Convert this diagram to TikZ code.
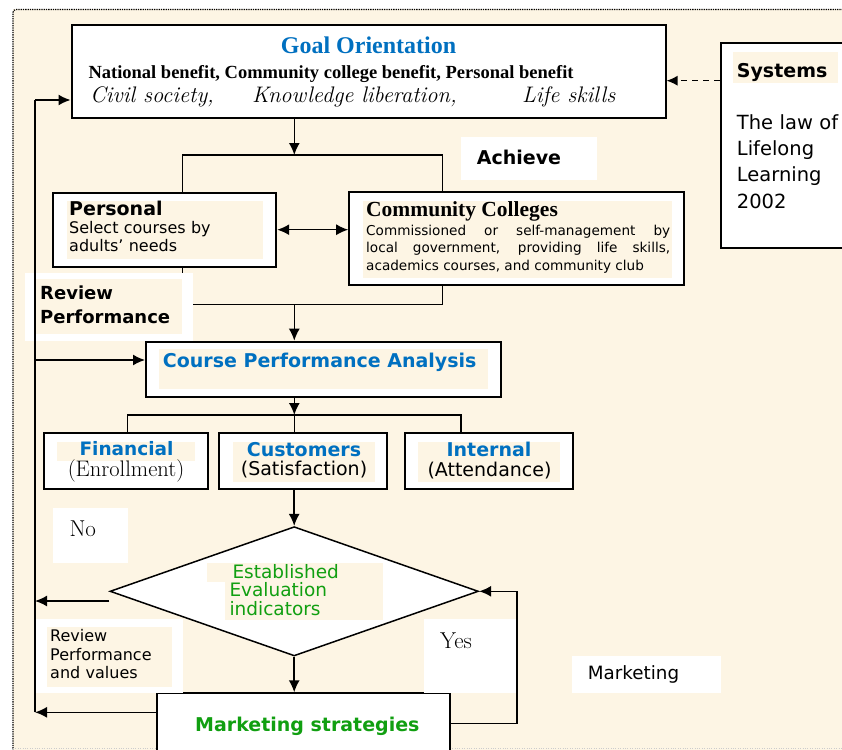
\documentclass[tikz,border=0pt]{standalone}
\usepackage{fontspec}
\setsansfont{DejaVu Sans}
\newfontfamily\timesfont{Liberation Serif}
\usetikzlibrary{shapes.geometric,arrows.meta}
\definecolor{paper}{HTML}{FDF5E4}
\definecolor{headblue}{HTML}{0070C0}
\definecolor{evalgreen}{HTML}{119F11}
\newcommand{\fsz}[2]{\fontsize{#1}{#2}\selectfont}
\tikzset{
    tip/.tip={Latex[length=12pt,width=11pt]},
}

\begin{document}
\begin{tikzpicture}[x=1pt, y=-1pt,
    box/.style={draw, line width=2pt, fill=white, inner sep=0pt},
    txt/.style={inner sep=0pt, anchor=base west},
    ctxt/.style={inner sep=0pt, anchor=base},
    flow/.style={line width=1.5pt, -tip},
    twoway/.style={line width=1.5pt, tip-tip},
    link/.style={line width=1.2pt},
    dashflow/.style={line width=1.4pt, dash pattern=on 6pt off 5pt, -{Latex[length=11pt,width=10pt]}}]

\useasboundingbox (0,0) rectangle (842,749);
\clip (0,0) rectangle (842,749);

% page and dotted frame
\fill[white] (0,0) rectangle (842,749);
\fill[paper] (13,9.5) rectangle (860,760);
\draw[line width=1.3pt, densely dotted, rounded corners=3pt] (13,760) -- (13,9.5) -- (860,9.5);
\draw[gray!40, dotted] (13,748) -- (860,748);

% boxes
\node[box, minimum width=594pt, minimum height=93pt] (goal) at (368.5,71.5) {};
\node[box, minimum width=160pt, minimum height=205pt] (sys) at (800.7,145.8) {};
\node[box, minimum width=223pt, minimum height=74pt] (personal) at (164.7,229.7) {};
\node[box, minimum width=335pt, minimum height=93pt] (colleges) at (516.7,238.7) {};
\node[box, minimum width=355pt, minimum height=55pt] (cpa) at (323.5,369.2) {};
\node[box, minimum width=164pt, minimum height=56.6pt] (fin) at (126.3,461) {};
\node[box, minimum width=168pt, minimum height=56.6pt] (cust) at (303.3,461) {};
\node[box, minimum width=168pt, minimum height=56.6pt] (intern) at (488.8,461) {};
\node[box, diamond, line width=1.5pt, minimum width=368.4pt, minimum height=129.3pt] (eval) at (294.2,591.3) {};
\node[box, minimum width=293.3pt, minimum height=60pt] (mkt) at (303.3,723.3) {};

% shaded text areas
\foreach \l/\t/\r/\b in {66.7/200.7/263.3/259, 362.7/200.7/671.7/277.7, 733.3/51.7/838.3/82.7,
    159/349.3/488.3/389, 57/441.7/195/461, 232.7/441.7/375/481.7, 418.3/441.7/560/481.7,
    206.7/563.3/382.7/582, 225/582/382.7/620}
    \fill[paper] (\l,\t) rectangle (\r,\b);

% goal -> personal / colleges
\coordinate (topsplit) at (294.3,155);
\coordinate (topleft) at (182.7,155);
\coordinate (topright) at (442.7,155);
\draw[flow] (goal.south -| topsplit) -- (topsplit);
\draw[link] (personal.north -| topleft) -- (topleft) -- (topright) -- (colleges.north -| topright);
\draw[twoway] (personal.east) -- (personal.east -| colleges.west);

% personal / colleges -> analysis
\coordinate (midsplit) at (294.3,304.3);
\coordinate (midleft) at (182.7,304.3);
\coordinate (midright) at (442.7,304.3);
\draw[link] (personal.south -| midleft) -- (midleft) -- (midright) -- (colleges.south -| midright);
\draw[flow] (midsplit) -- (midsplit |- cpa.north);

% white label boxes
\fill[white] (461,136.7) rectangle (597,180);
\fill[white] (25,272.7) rectangle (193.3,341);
\fill[paper] (36,279.3) rectangle (181.7,334);
\fill[white] (52.7,507.7) rectangle (127.7,563.3);
\fill[white] (36,619.3) rectangle (183,693.3);
\fill[paper] (46.7,626.7) rectangle (171.7,686.7);
\fill[white] (424,619.3) rectangle (516,693.3);
\fill[white] (571.7,656) rectangle (720.7,693.3);

% analysis -> perspectives -> indicators -> strategies
\coordinate (lowsplit) at (294.3,415);
\coordinate (lowleft) at (127.7,415);
\coordinate (lowright) at (461,415);
\draw[flow] (cpa.south -| lowsplit) -- (lowsplit);
\draw[link] (fin.north -| lowleft) -- (lowleft) -- (lowright) -- (intern.north -| lowright);
\draw[link] (lowsplit) -- (cust.north -| lowsplit);
\draw[flow] (cust.south -| eval.north) -- (eval.north);
\draw[flow] (eval.south) -- (mkt.north -| eval.south);

% yes loop
\coordinate (yesturn) at (517,591.3);
\draw[flow] (mkt.east) -| (yesturn) -- (eval.east);

% review loop on the left
\coordinate (backtop) at (35,100);
\coordinate (backcpa) at (35,360);
\coordinate (backbot) at (35,712.3);
\draw[line width=1.5pt] (backbot) -- (backtop);
\draw[flow] (backtop) -- (backtop -| goal.west);
\draw[flow] (backcpa) -- (backcpa -| cpa.west);
\draw[flow] ([yshift=-9.7pt]eval.west) -- ([yshift=-9.7pt]eval.west -| backbot);
\draw[flow] (mkt.west |- backbot) -- (backbot);

% law -> goal
\coordinate (syslink) at (0,80.7);
\draw[dashflow] (sys.west |- syslink) -- (goal.east |- syslink);

% texts
\node[ctxt, font=\timesfont\bfseries\fsz{24}{28}, text=headblue] (goalhead) at (368.5,53.3) {Goal Orientation};
\node[txt, font=\timesfont\bfseries\fsz{18.5}{22}] (goalben) at (88.3,78.3) {National benefit, Community college benefit, Personal benefit};
\node[txt, font=\itshape\fsz{22.5}{26}] (goalval) at (90,102.3)
    {\makebox[162pt][l]{Civil society,}\makebox[270pt][l]{Knowledge liberation,}Life skills};
\node[txt, font=\sffamily\bfseries\fsz{19}{23}] (achieve) at (476.7,164) {Achieve};
\node[txt, font=\sffamily\bfseries\fsz{19}{23}] (systitle) at (736.7,77.3) {Systems};
\node[txt, text width=130pt, align=left, font=\sffamily\fsz{19.5}{26.3}] (law) at (736.7,129.3)
    {The law of\\Lifelong\\Learning\\2002};

\node[txt, text width=190pt, align=left, font=\sffamily\fsz{16}{18}] (personaltxt) at (69,215.7)
    {{\bfseries\fsz{19}{18}Personal}\\Select courses by\\adults’ needs};
\node[txt, font=\timesfont\bfseries\fsz{21.5}{24}] (collegeshead) at (366,216) {Community Colleges};
\node[txt, text width=304pt, align=justify, font=\sffamily\fsz{13.6}{17.5}] (collegestxt) at (366,235)
    {Commissioned or self-management by\linebreak local government, providing life skills,\linebreak academics courses, and community club};

\node[txt, text width=140pt, align=left, font=\sffamily\bfseries\fsz{18}{24}] (review) at (40,299.3) {Review\\Performance};
\node[txt, font=\sffamily\bfseries\fsz{19}{22}, text=headblue] (cpatxt) at (162.7,367.3) {Course Performance Analysis};

\node[ctxt, font=\sffamily\bfseries\fsz{18.5}{22}, text=headblue] (fintitle) at (126.5,455.8) {Financial};
\node[ctxt, font=\fsz{22.5}{26}] (finsub) at (126,476.7) {(Enrollment)};
\node[ctxt, font=\sffamily\bfseries\fsz{19}{22}, text=headblue] (custtitle) at (304,456.3) {Customers};
\node[ctxt, font=\sffamily\fsz{19}{22}] (custsub) at (304,475.8) {(Satisfaction)};
\node[ctxt, font=\sffamily\bfseries\fsz{19}{22}, text=headblue] (interntitle) at (489,456.3) {Internal};
\node[ctxt, font=\sffamily\fsz{19}{22}] (internsub) at (489.5,476.5) {(Attendance)};

\node[txt, font=\fsz{23}{26}] (no) at (69.3,536.7) {No};
\node[txt, text width=150pt, align=left, font=\sffamily\fsz{18.5}{18.4}, text=evalgreen] (evaltxt) at (229.3,578.3)
    {\hspace{3pt}Established\\Evaluation\\indicators};
\node[txt, text width=120pt, align=left, font=\sffamily\fsz{16}{18.3}] (reviewval) at (50,641.7)
    {Review\\Performance\\and values};
\node[txt, font=\fsz{23}{26}] (yes) at (440,648.3) {Yes};
\node[txt, font=\sffamily\fsz{18.3}{22}] (mktlabel) at (587.7,679) {Marketing};
\node[txt, font=\sffamily\bfseries\fsz{19}{22}, text=evalgreen] (mkttxt) at (195,731.7) {Marketing strategies};
\end{tikzpicture}
\end{document}
